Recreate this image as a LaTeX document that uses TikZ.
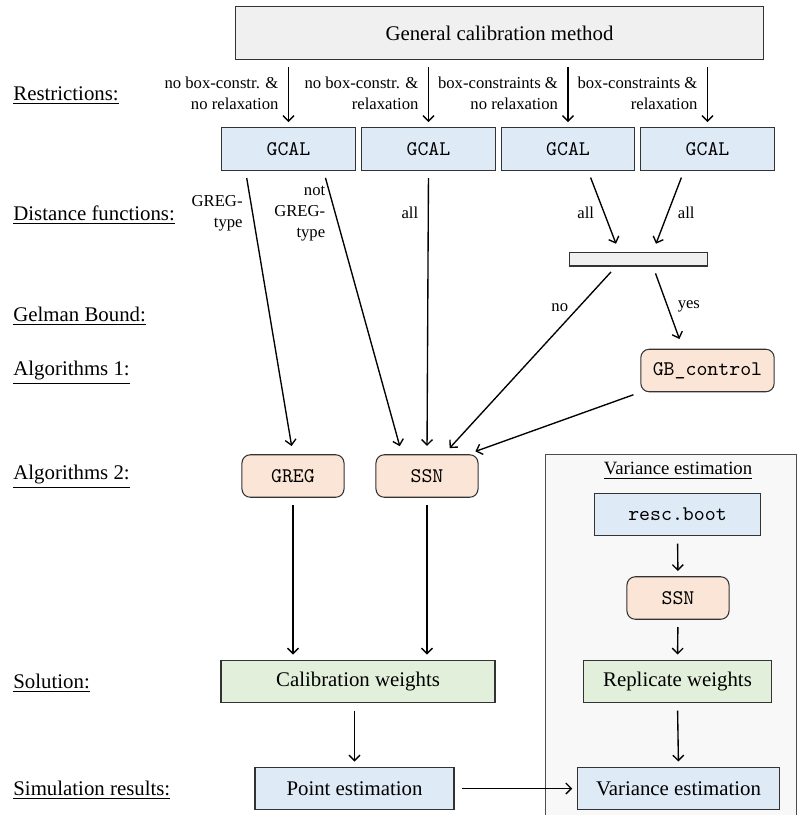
\documentclass[tikz,border=0pt]{standalone}
\usepackage{fontspec}
\setmainfont{Liberation Serif}
\usetikzlibrary{calc, arrows.meta}

\definecolor{boxgray}{HTML}{F0F0F0}
\definecolor{lightblue}{HTML}{DEEAF6}
\definecolor{peach}{HTML}{FBE5D6}
\definecolor{lightgreen}{HTML}{E2EFDA}
\definecolor{panelgray}{HTML}{F8F8F8}

\begin{document}
\begin{tikzpicture}[
        x=0.48pt, y=-0.48pt,
        box/.style={rectangle, draw=black!80, line width=0.5pt, minimum height=20.4pt, inner sep=2pt},
        method/.style={box, fill=boxgray, minimum width=253pt, minimum height=25pt},
        gcal/.style={box, fill=lightblue, minimum width=64pt, font=\ttfamily},
        algo/.style={box, rounded corners=4pt, fill=peach, font=\ttfamily},
        weights/.style={box, fill=lightgreen},
        estim/.style={box, fill=lightblue},
        arr/.style={-{Straight Barb[length=2.6pt, width=5.2pt]}, line width=0.65pt, shorten <=3.5pt, shorten >=2.5pt},
        lbl/.style={font=\fontsize{8}{10}\selectfont, align=right, inner sep=1pt},
        rowlabel/.style={anchor=west, inner sep=0pt}
    ]
    \useasboundingbox (0,0) rectangle (800,815);

    % Variance estimation panel
    \draw[draw=black!70, line width=0.4pt, fill=panelgray] (545,454) rectangle (796,830);
    \node (vartitle) at (678,471) {\small\underline{Variance estimation}};

    % Row labels
    \node[rowlabel] (lrestr) at (13,96) {\underline{Restrictions:}};
    \node[rowlabel] (ldist) at (13,215) {\underline{Distance functions:}};
    \node[rowlabel] (lgelman) at (13,316) {\underline{Gelman Bound:}};
    \node[rowlabel] (lalgo1) at (13,373) {\underline{Algorithms 1:}};
    \node[rowlabel] (lalgo2) at (13,477) {\underline{Algorithms 2:}};
    \node[rowlabel] (lsol) at (13,683) {\underline{Solution:}};
    \node[rowlabel] (lsim) at (13,790) {\underline{Simulation results:}};

    % General method
    \node[method] (general) at (499.5,33) {General calibration method};

    % GCAL variants
    \node[gcal] (gcal1) at (288.5,149) {GCAL};
    \node[gcal] (gcal2) at (428.5,149) {GCAL};
    \node[gcal] (gcal3) at (568,149) {GCAL};
    \node[gcal] (gcal4) at (707.5,149) {GCAL};

    % Gelman bound decision
    \node[box, fill=boxgray, minimum width=66pt, minimum height=6.7pt, inner sep=0pt] (gelman) at (638.5,259) {};
    \node[algo, minimum width=64pt] (gbcontrol) at (707.5,370.5) {GB\_control};

    % Algorithms
    \node[algo, minimum width=49pt] (greg) at (293,476) {GREG};
    \node[algo, minimum width=49pt] (ssn) at (427,476) {SSN};

    % Solution and results
    \node[weights, minimum width=131.5pt] (calweights) at (358,681.5) {Calibration weights};
    \node[estim, minimum width=95.5pt] (pointest) at (354.5,788.5) {Point estimation};

    % Bootstrap
    \node[estim, font=\ttfamily, minimum width=80pt] (rescboot) at (677.5,514.5) {resc.boot};
    \node[algo, minimum width=49pt] (ssnboot) at (678,598) {SSN};
    \node[weights, minimum width=90pt] (repweights) at (677.5,681.5) {Replicate weights};
    \node[estim, minimum width=96.5pt] (varest) at (678.5,788.5) {Variance estimation};

    % Restrictions
    \draw[arr] (gcal1 |- general.south) -- (gcal1.north) node[midway, lbl, left=3.5pt] {no box-constr. \&\\no relaxation};
    \draw[arr] (gcal2 |- general.south) -- (gcal2.north) node[midway, lbl, left=3.5pt] {no box-constr. \&\\relaxation};
    \draw[arr] (gcal3 |- general.south) -- (gcal3.north) node[midway, lbl, left=3.5pt] {box-constraints \&\\no relaxation};
    \draw[arr] (gcal4 |- general.south) -- (gcal4.north) node[midway, lbl, left=3.5pt] {box-constraints \&\\relaxation};

    % Distance functions
    \draw[arr, shorten >=4pt] ($(gcal1.south)+(-43,0)$) -- (greg.north) node[pos=0.15, lbl, left=3.5pt] {GREG-\\type};
    \draw[arr, shorten >=4pt] ($(gcal1.south)+(35,0)$) -- ($(ssn.north)+(-25,0)$) node[pos=0.15, lbl, left=3.5pt] {not\\GREG-\\type};
    \draw[arr, shorten >=4pt] (gcal2.south) -- (ssn.north) node[pos=0.15, lbl, left=3.5pt] {all};
    \draw[arr, shorten >=4pt] ($(gcal3.south)+(20,0)$) -- ($(gelman.north)+(-19.5,0)$) node[pos=0.52, lbl, left=3.5pt] {all};
    \draw[arr, shorten >=4pt] ($(gcal4.south)+(-23.5,0)$) -- ($(gelman.north)+(14.5,0)$) node[pos=0.52, lbl, right=3.5pt] {all};

    % Gelman bound
    \draw[arr, shorten >=4pt] ($(gelman.south)+(-22.5,0)$) -- ($(ssn.north)+(17,0)$) node[pos=0.22, lbl, left=3.5pt] {no};
    \draw[arr, shorten >=5pt] ($(gelman.south)+(14.5,0)$) -- ($(gbcontrol.north)+(-24.5,0)$) node[pos=0.49, lbl, right=3.5pt] {yes};
    \draw[arr, shorten >=4pt] (gbcontrol.south west) -- ($(ssn.north east)+(-11,0)$);

    % Solution
    \draw[arr] (greg.south) -- (greg.south |- calweights.north);
    \draw[arr] (ssn.south) -- (ssn.south |- calweights.north);
    \draw[arr] (pointest |- calweights.south) -- (pointest.north);
    \draw[arr] (pointest.east) -- (varest.west);

    % Variance estimation
    \draw[arr] (rescboot.south) -- (ssnboot.north);
    \draw[arr] (ssnboot.south) -- (repweights.north);
    \draw[arr] (repweights.south) -- (varest.north);

\end{tikzpicture}
\end{document}
